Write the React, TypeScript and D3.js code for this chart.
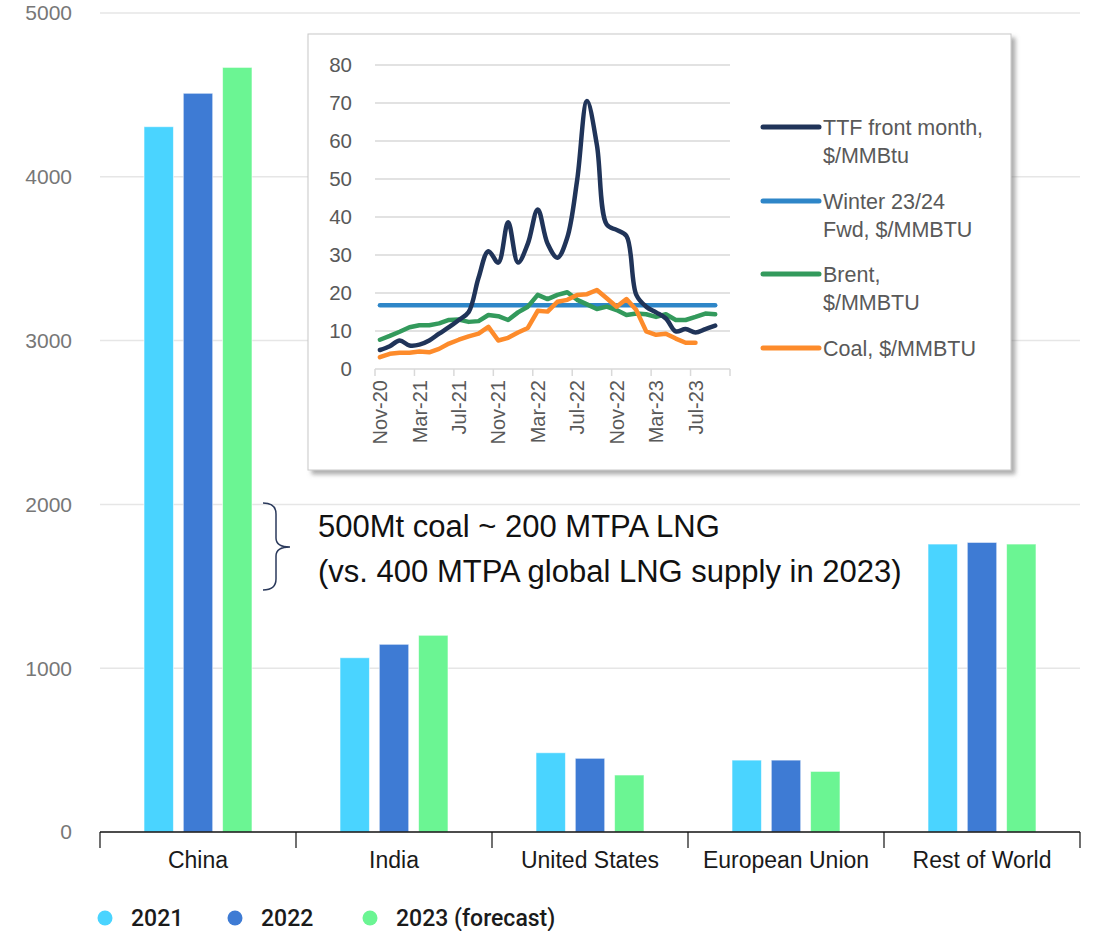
import React from "react";
import * as d3 from "d3";

// main chart: coal demand by region, Mt
const regions = ["China", "India", "United States", "European Union", "Rest of World"];
const years = ["2021", "2022", "2023 (forecast)"];
const values2021 = [4306, 1064, 484, 439, 1758];
const values2022 = [4510, 1146, 450, 439, 1768];
const values2023 = [4668, 1201, 348, 370, 1758];
const yTicks = [0, 1000, 2000, 3000, 4000, 5000];
const barColors = ["#4AD4FF", "#3E7BD4", "#6BF593"];

// inset: monthly prices, $/MMBtu
const months = [
  "Nov-20", "Dec-20", "Jan-21", "Feb-21", "Mar-21", "Apr-21", "May-21", "Jun-21", "Jul-21",
  "Aug-21", "Sep-21", "Oct-21", "Nov-21", "Dec-21", "Jan-22", "Feb-22", "Mar-22", "Apr-22",
  "May-22", "Jun-22", "Jul-22", "Aug-22", "Sep-22", "Oct-22", "Nov-22", "Dec-22", "Jan-23",
  "Feb-23", "Mar-23", "Apr-23", "May-23", "Jun-23", "Jul-23", "Aug-23", "Sep-23", "Oct-23",
];
const ttf = [
  5, 6, 7.5, 6.2, 6.4, 7.5, 9.3, 11, 12.9, 15, 24, 31, 28, 38.6, 28, 33, 42, 33,
  29.3, 34.6, 49.7, 70.5, 59, 38, 36.6, 35, 19.5, 16.4, 14.9, 13.3, 9.9, 10.5, 9.6, 10.5, 11.4,
];
const brent = [
  7.7, 8.7, 9.8, 11, 11.5, 11.5, 12, 12.9, 13, 12.4, 12.6, 14.2, 13.9, 12.9, 14.9, 16.4, 19.5, 18.4,
  19.5, 20.2, 18.2, 17, 15.8, 16.4, 15.5, 14.2, 14.6, 14.4, 13.7, 14.4, 12.9, 12.9, 13.7, 14.6, 14.4,
];
const coal = [
  3.1, 4, 4.3, 4.3, 4.6, 4.4, 5.3, 6.7, 7.7, 8.6, 9.3, 11.1, 7.5, 8.2, 9.6, 10.8, 15.3, 15.1,
  17.7, 18.2, 19.5, 19.7, 20.8, 18.6, 16.4, 18.4, 15.5, 9.9, 9, 9.3, 8, 6.9, 6.9,
];
const winterFwd = 16.8;
const insetTicks = [0, 10, 20, 30, 40, 50, 60, 70, 80];
const insetLegend = [
  { lines: ["TTF front month,", "$/MMBtu"], color: "#203459" },
  { lines: ["Winter 23/24", "Fwd, $/MMBTU"], color: "#2E86C8" },
  { lines: ["Brent,", "$/MMBTU"], color: "#339A5C" },
  { lines: ["Coal, $/MMBTU"], color: "#FD8B2B" },
];

const W = 1094;
const H = 931;

export default function App() {
  const x0 = d3.scaleBand<string>().domain(regions).range([100, 1080]);
  const x1 = d3.scaleBand<string>().domain(years).range([44, 152]).paddingInner(0.25);
  const y = d3.scaleLinear().domain([0, 5000]).range([832, 13]);
  const series = [values2021, values2022, values2023];

  const ix = d3.scaleBand<string>().domain(months).range([375, 730]);
  const iy = d3.scaleLinear().domain([0, 80]).range([369, 65]);
  const cx = (i: number) => (ix(months[i]) as number) + ix.bandwidth() / 2;
  const smooth = d3
    .line<number>()
    .x((_, i) => cx(i))
    .y((d) => iy(d))
    .curve(d3.curveCatmullRom.alpha(0.5));
  const straight = d3
    .line<number>()
    .x((_, i) => cx(i))
    .y((d) => iy(d));
  const tickIdx = d3.range(0, months.length + 1, 4);

  const font = "'Liberation Sans', Arial, sans-serif";

  return (
    <svg
      width={W}
      height={H}
      style={{ position: "absolute", left: 0, top: 0, background: "#fff" }}
      fontFamily={font}
    >
      <defs>
        <filter id="shadow" x="-5%" y="-5%" width="115%" height="115%">
          <feDropShadow dx="4" dy="4" stdDeviation="2" floodColor="#777" floodOpacity="0.6" />
        </filter>
      </defs>

      {/* main grid */}
      {yTicks.map((t) => (
        <g key={t}>
          {t > 0 && <line x1={100} x2={1080} y1={y(t)} y2={y(t)} stroke="#e6e6e6" strokeWidth={1.5} />}
          <text x={72} y={y(t)} dy="0.35em" textAnchor="end" fontSize={21} fill="#777">
            {t}
          </text>
        </g>
      ))}

      {/* bars */}
      {regions.map((r, ri) => (
        <g key={r} transform={`translate(${x0(r)},0)`}>
          {years.map((yr, k) => (
            <rect
              key={yr}
              x={x1(yr)}
              y={y(series[k][ri])}
              width={x1.bandwidth()}
              height={y(0) - y(series[k][ri])}
              fill={barColors[k]}
              stroke="#ffffff"
              strokeOpacity={0.6}
              strokeWidth={1}
            />
          ))}
        </g>
      ))}

      {/* category axis */}
      <line x1={100} x2={1080} y1={y(0)} y2={y(0)} stroke="#111" strokeWidth={1.5} />
      {[...regions.map((r) => x0(r) as number), 1080].map((xv, i) => (
        <line key={i} x1={xv} x2={xv} y1={y(0)} y2={y(0) + 16} stroke="#111" strokeWidth={1.2} />
      ))}
      {regions.map((r) => (
        <text
          key={r}
          x={(x0(r) as number) + x0.bandwidth() / 2}
          y={868}
          textAnchor="middle"
          fontSize={23}
          fill="#1a1a1a"
        >
          {r}
        </text>
      ))}

      {/* bottom legend */}
      {years.map((yr, k) => {
        const lx = [105, 235, 370][k];
        return (
          <g key={yr}>
            <circle cx={lx} cy={918} r={7.5} fill={barColors[k]} />
            <text x={lx + 26} y={926} fontSize={23} fontWeight={500} fontFamily="Roboto, sans-serif" fill="#1b1b1b">
              {yr}
            </text>
          </g>
        );
      })}

      {/* annotation */}
      <path
        d="M263,503 Q276,503 276,514 L276,538 Q276,547 290,547 Q276,547 276,556 L276,579 Q276,590 263,590"
        fill="none"
        stroke="#2b3a5c"
        strokeWidth={1.5}
      />
      <text x={318} y={537} fontSize={31} fill="#111">
        500Mt coal ~ 200 MTPA LNG
      </text>
      <text x={318} y={582} fontSize={31} fill="#111">
        (vs. 400 MTPA global LNG supply in 2023)
      </text>

      {/* inset */}
      <rect x={308} y={34} width={703} height={436} fill="#fff" stroke="#c8c8c8" strokeWidth={1} filter="url(#shadow)" />
      {insetTicks.map((t) => (
        <g key={t}>
          <line x1={375} x2={730} y1={iy(t)} y2={iy(t)} stroke="#d9d9d9" strokeWidth={1.5} />
          <text x={352} y={iy(t)} dy="0.36em" textAnchor="end" fontSize={20.5} fill="#595959">
            {t}
          </text>
        </g>
      ))}
      {tickIdx.map((i) => {
        const xv = i < months.length ? (ix(months[i]) as number) : 730;
        return <line key={i} x1={xv} x2={xv} y1={iy(0)} y2={iy(0) + 7} stroke="#d9d9d9" strokeWidth={1.5} />;
      })}
      {tickIdx
        .filter((i) => i < months.length)
        .map((i) => (
          <text
            key={i}
            transform={`translate(${cx(i)},${iy(0) + 11}) rotate(-90)`}
            textAnchor="end"
            dy="0.36em"
            fontSize={20}
            fill="#595959"
          >
            {months[i]}
          </text>
        ))}

      <line
        x1={cx(0)}
        x2={cx(ttf.length - 1)}
        y1={iy(winterFwd)}
        y2={iy(winterFwd)}
        stroke="#2E86C8"
        strokeWidth={4.5}
        strokeLinecap="round"
      />
      <path d={straight(brent) ?? ""} fill="none" stroke="#339A5C" strokeWidth={4.5} strokeLinejoin="round" strokeLinecap="round" />
      <path d={straight(coal) ?? ""} fill="none" stroke="#FD8B2B" strokeWidth={4.5} strokeLinejoin="round" strokeLinecap="round" />
      <path d={smooth(ttf) ?? ""} fill="none" stroke="#203459" strokeWidth={4.5} strokeLinejoin="round" strokeLinecap="round" />

      {insetLegend.map((item, k) => {
        const ly = [127, 201, 274, 348][k];
        return (
          <g key={k}>
            <line x1={763} x2={819} y1={ly} y2={ly} stroke={item.color} strokeWidth={5} strokeLinecap="round" />
            {item.lines.map((s, j) => (
              <text key={j} x={823} y={ly + j * 28} dy="0.36em" fontSize={21.5} fill="#595959">
                {s}
              </text>
            ))}
          </g>
        );
      })}
    </svg>
  );
}
